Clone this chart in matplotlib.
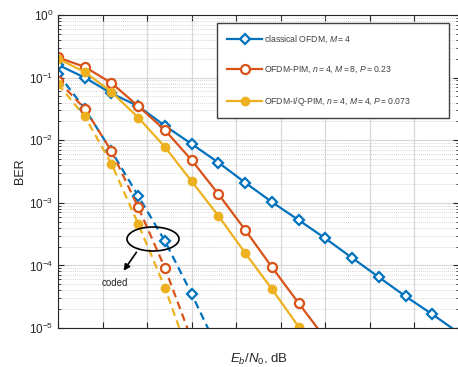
import matplotlib
matplotlib.use("Agg")
import matplotlib.pyplot as plt
from matplotlib.patches import Ellipse
import numpy as np

# Eb/N0 points (arbitrary dB scale, ticks unlabeled in reference)
snr_classical = [0, 3, 6, 9, 12, 15, 18, 21, 24, 27, 30, 33, 36, 39, 42, 45]
ber_classical = [0.16, 0.10, 0.056, 0.035, 0.017, 0.0087, 0.0044, 0.0021, 0.00103,
                 0.00053, 0.00027, 0.000132, 6.5e-5, 3.2e-5, 1.66e-5, 8.3e-6]

snr_pim = [0, 3, 6, 9, 12, 15, 18, 21, 24, 27, 30]
ber_pim = [0.21, 0.148, 0.082, 0.035, 0.0145, 0.0048, 0.00138, 0.00037, 9.4e-5, 2.5e-5, 6.8e-6]

snr_iq = [0, 3, 6, 9, 12, 15, 18, 21, 24, 27]
ber_iq = [0.20, 0.123, 0.059, 0.023, 0.0078, 0.0022, 0.00062, 0.000158, 4.2e-5, 1.05e-5]

snr_coded_classical = [0, 3, 6, 9, 12, 15, 18]
ber_coded_classical = [0.115, 0.032, 0.0067, 0.00129, 0.000245, 3.5e-5, 4.4e-6]

snr_coded_pim = [0, 3, 6, 9, 12, 15]
ber_coded_pim = [0.089, 0.032, 0.0067, 0.00085, 9.1e-5, 6.5e-6]

snr_coded_iq = [0, 3, 6, 9, 12, 15]
ber_coded_iq = [0.079, 0.024, 0.0042, 0.00046, 4.4e-5, 2.8e-6]

labels = ["classical OFDM, $M = 4$",
          "OFDM-PIM, $n = 4$, $M = 8$, $P = 0.23$",
          "OFDM-I/Q-PIM, $n = 4$, $M = 4$, $P = 0.073$"]

c_blue = "#0072BD"
c_orange = "#D95319"
c_yellow = "#EDB120"

plt.rcParams['font.family'] = ['Liberation Sans', 'DejaVu Sans']
plt.rcParams['mathtext.fontset'] = 'custom'
plt.rcParams['mathtext.it'] = 'Liberation Sans:italic'
plt.rcParams['mathtext.rm'] = 'Liberation Sans'

fig = plt.figure(figsize=(4.58, 3.67), dpi=100)
ax = fig.add_axes([58 / 458, 1 - 328 / 367, 401 / 458, 313 / 367])

lw = 1.6
ms = 6.5
dash = (0, (3.5, 2.2))
ax.plot(snr_coded_classical, ber_coded_classical, ls=dash, color=c_blue, lw=lw,
        marker='D', ms=ms - 1.5, mfc='white', mec=c_blue, mew=1.6)
ax.plot(snr_coded_pim, ber_coded_pim, ls=dash, color=c_orange, lw=lw,
        marker='o', ms=ms, mfc='white', mec=c_orange, mew=1.6)
ax.plot(snr_coded_iq, ber_coded_iq, ls=dash, color=c_yellow, lw=lw,
        marker='o', ms=ms - 0.5, mfc=c_yellow, mec=c_yellow)

l1, = ax.plot(snr_classical, ber_classical, '-', color=c_blue, lw=lw,
              marker='D', ms=ms - 1.5, mfc='white', mec=c_blue, mew=1.6, label=labels[0])
l2, = ax.plot(snr_pim, ber_pim, '-', color=c_orange, lw=lw,
              marker='o', ms=ms, mfc='white', mec=c_orange, mew=1.6, label=labels[1])
l3, = ax.plot(snr_iq, ber_iq, '-', color=c_yellow, lw=lw,
              marker='o', ms=ms - 0.5, mfc=c_yellow, mec=c_yellow, label=labels[2])

ax.set_yscale('log')
ax.set_xlim(0, 45)
ax.set_ylim(1e-5, 1)
ax.set_xticks(np.arange(0, 46, 5))
ax.set_xticklabels([])
ax.set_yticks([1e0, 1e-1, 1e-2, 1e-3, 1e-4, 1e-5])
ax.grid(True, which='major', color='#d8d8d8', lw=0.9, ls='-')
ax.grid(True, which='minor', axis='y', color='#c8c8c8', lw=0.6, ls=(0, (1, 1.5)))
ax.set_axisbelow(True)
ax.tick_params(which='both', direction='in', top=True, right=True, labelsize=8.5,
               colors='#262626')
ax.tick_params(which='major', length=4)
ax.tick_params(which='minor', length=2)
for s in ax.spines.values():
    s.set_color('#262626')
    s.set_linewidth(0.8)

ax.set_ylabel('BER', fontsize=9, color='#262626', labelpad=2)
ax.set_xlabel('$E_b/N_0$, dB', fontsize=9.5, color='#262626', labelpad=14)

x0 = (217 - 58) / 401
w = (449 - 217) / 401
h = (117 - 23) / 313
y0 = 1 - (117 - 15) / 313
leg = ax.legend(handles=[l1, l2, l3], loc='upper left',
                bbox_to_anchor=(x0, y0, w, h),
                mode='expand', fontsize=6.2, handlelength=4.0, labelspacing=2.3,
                borderpad=1.2, handletextpad=0.3, fancybox=False, framealpha=1,
                edgecolor='#404040', borderaxespad=0)
leg.get_frame().set_linewidth(1.0)
for t in leg.get_texts():
    t.set_color('#404040')

ell = Ellipse(((153 - 58) / 401, 1 - (239 - 15) / 313), 52 / 401, 24 / 313,
              transform=ax.transAxes, fill=False, edgecolor='black', lw=1.2, zorder=5)
ax.add_patch(ell)
ax.annotate('', xy=((122 - 58) / 401, 1 - (273 - 15) / 313),
            xytext=((138 - 58) / 401, 1 - (250 - 15) / 313),
            xycoords='axes fraction', textcoords='axes fraction',
            arrowprops=dict(arrowstyle='-|>', color='black', lw=1.2, mutation_scale=9), zorder=5)
ax.text((115 - 58) / 401, 1 - (283 - 15) / 313, 'coded', transform=ax.transAxes,
        fontsize=7, color='#262626', ha='center', va='center', zorder=5)

fig.savefig('out.png', dpi=100)
